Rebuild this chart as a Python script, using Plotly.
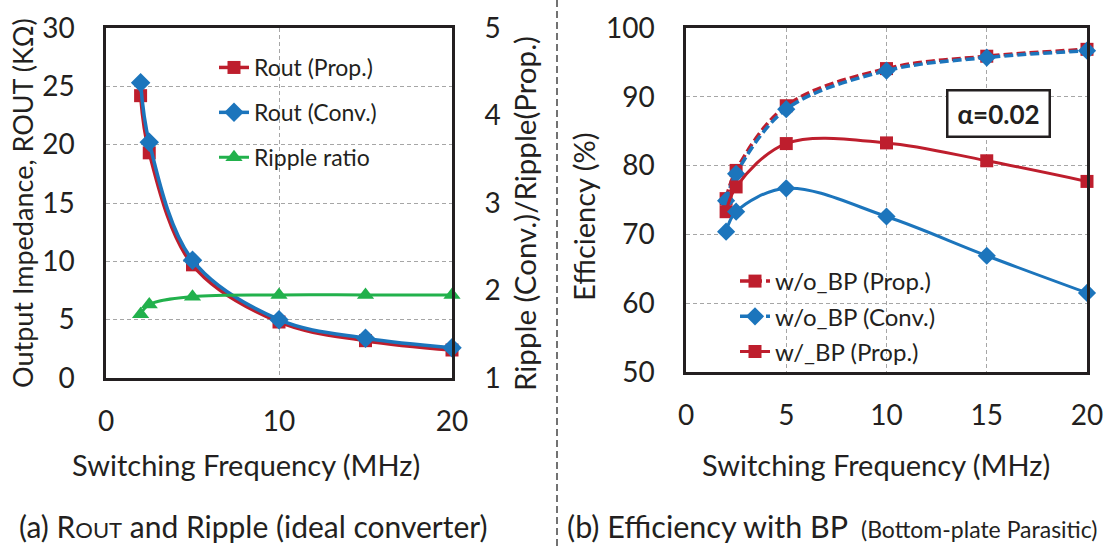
import plotly.graph_objects as go

# ---------------- data ----------------
freq = [2, 2.5, 5, 10, 15, 20]

rout_prop = [24.2, 19.3, 9.7, 4.8, 3.2, 2.4]
rout_conv = [25.3, 20.2, 10.1, 5.0, 3.4, 2.6]
ripple_ratio = [1.73, 1.84, 1.93, 1.95, 1.95, 1.95]

eff_wo_prop = [75.2, 79.3, 88.7, 94.1, 95.9, 96.9]
eff_wo_conv = [74.9, 78.8, 88.2, 93.8, 95.7, 96.7]
eff_w_prop = [73.3, 76.9, 83.2, 83.3, 80.7, 77.7]
eff_w_conv = [70.4, 73.3, 76.7, 72.6, 66.9, 61.5]

left_names = ["Rout (Prop.)", "Rout (Conv.)", "Ripple ratio"]
right_names = ["w/o_BP (Prop.)", "w/o_BP (Conv.)", "w/_BP (Prop.)", "w/_BP (Conv.)"]

RED = "#BE1E2D"
BLUE = "#1C75BC"
GREEN = "#22B14C"
INK = "#231F20"
GRID = "#A6A6A6"
FONT = "Lato"

W, H = 1110, 546

def px_x(p):
    return p / W

def px_y(p):
    return 1 - p / H

fig = go.Figure()

# ---------------- left panel ----------------
fig.add_trace(go.Scatter(
    x=freq, y=rout_prop, name=left_names[0], xaxis="x", yaxis="y",
    mode="lines+markers", line=dict(color=RED, width=3.5, shape="spline"),
    marker=dict(symbol="square", size=13, color=RED),
    cliponaxis=False, legend="legend", legendgroup="a1"))
fig.add_trace(go.Scatter(
    x=freq, y=rout_conv, name=left_names[1], xaxis="x", yaxis="y",
    mode="lines+markers", line=dict(color=BLUE, width=3.5, shape="spline"),
    marker=dict(symbol="diamond", size=15, color=BLUE),
    cliponaxis=False, legend="legend", legendgroup="a2"))
fig.add_trace(go.Scatter(
    x=freq, y=ripple_ratio, name=left_names[2], xaxis="x", yaxis="y2",
    mode="lines+markers", line=dict(color=GREEN, width=3, shape="spline"),
    marker=dict(symbol="triangle-up", size=15, color=GREEN),
    cliponaxis=False, legend="legend", legendgroup="a3"))

# ---------------- right panel ----------------
fig.add_trace(go.Scatter(
    x=freq, y=eff_wo_prop, name=right_names[0], xaxis="x2", yaxis="y3",
    mode="lines+markers", line=dict(color=RED, width=3.5, shape="spline", dash="9px,4px"),
    marker=dict(symbol="square", size=13, color=RED),
    cliponaxis=False, legend="legend2", legendgroup="b1"))
fig.add_trace(go.Scatter(
    x=freq, y=eff_wo_conv, name=right_names[1], xaxis="x2", yaxis="y3",
    mode="lines+markers", line=dict(color=BLUE, width=3.5, shape="spline", dash="9px,4px"),
    marker=dict(symbol="diamond", size=14, color=BLUE),
    cliponaxis=False, legend="legend2", legendgroup="b2"))
fig.add_trace(go.Scatter(
    x=freq, y=eff_w_prop, name=right_names[2], xaxis="x2", yaxis="y3",
    mode="lines+markers", line=dict(color=RED, width=3, shape="spline"),
    marker=dict(symbol="square", size=13, color=RED),
    cliponaxis=False, legend="legend2", legendgroup="b3"))
fig.add_trace(go.Scatter(
    x=freq, y=eff_w_conv, name=right_names[3], xaxis="x2", yaxis="y3",
    mode="lines+markers", line=dict(color=BLUE, width=3, shape="spline"),
    marker=dict(symbol="diamond", size=14, color=BLUE),
    cliponaxis=False, showlegend=False))

tickfont = dict(family=FONT, size=28, color=INK)
common_x = dict(showline=True, linecolor=INK, linewidth=2.5, mirror=True, automargin=False,
                showgrid=True, gridcolor=GRID, gridwidth=1.2, griddash="4px,3px",
                zeroline=False, ticks="outside", ticklen=17, tickcolor="rgba(0,0,0,0)",
                tickfont=tickfont, fixedrange=True)
common_y = dict(showline=True, linecolor=INK, linewidth=2.5, mirror=True, automargin=False,
                showgrid=True, gridcolor=GRID, gridwidth=1.2, griddash="4px,3px",
                zeroline=False, ticks="outside", ticklen=23, tickcolor="rgba(0,0,0,0)",
                tickfont=tickfont, fixedrange=True)

fig.update_layout(
    template="none",
    width=W, height=H, margin=dict(l=0, r=0, t=0, b=0, autoexpand=False),
    paper_bgcolor="white", plot_bgcolor="white",
    font=dict(family=FONT, color=INK),
    xaxis=dict(domain=[px_x(106), px_x(452)], range=[0, 20], dtick=10, anchor="y", **common_x),
    yaxis=dict(domain=[px_y(378), px_y(28)], range=[0, 30], dtick=5, anchor="x", **common_y),
    yaxis2=dict(overlaying="y", side="right", range=[1, 5], dtick=1, anchor="x",
                showgrid=False, zeroline=False, showline=False, automargin=False,
                ticks="outside", ticklen=26, tickcolor="rgba(0,0,0,0)",
                tickfont=tickfont, fixedrange=True),
    xaxis2=dict(domain=[px_x(686), px_x(1087)], range=[0, 20], dtick=5, anchor="y3", **common_x),
    yaxis3=dict(domain=[px_y(372), px_y(28)], range=[50, 100], dtick=10, anchor="x2", **common_y),
    legend=dict(x=px_x(214), y=px_y(46), xanchor="left", yanchor="top",
                bgcolor="rgba(0,0,0,0)", font=dict(family=FONT, size=23, color=INK),
                tracegroupgap=12, itemwidth=30),
    legend2=dict(x=px_x(735), y=px_y(259), xanchor="left", yanchor="top",
                 bgcolor="rgba(0,0,0,0)", font=dict(family=FONT, size=24, color=INK),
                 tracegroupgap=1, itemwidth=30),
)

# white areas behind legends (hide gridlines, like the Excel legend boxes)
fig.add_shape(type="rect", xref="paper", yref="paper", layer="between",
              x0=px_x(180), x1=px_x(423), y0=px_y(181), y1=px_y(29),
              fillcolor="white", line=dict(width=0))
fig.add_shape(type="rect", xref="paper", yref="paper", layer="between",
              x0=px_x(697), x1=px_x(950), y0=px_y(370), y1=px_y(261),
              fillcolor="white", line=dict(width=0))

# separator
fig.add_shape(type="line", xref="paper", yref="paper", x0=px_x(557), x1=px_x(557),
              y0=0, y1=1, line=dict(color="#444444", width=1.5, dash="7px,4px"))

def ann(text, x, y, size, angle=0, xanchor="center", **kw):
    fig.add_annotation(text=text, xref="paper", yref="paper", x=px_x(x), y=px_y(y),
                       xanchor=xanchor, yanchor="middle", showarrow=False, textangle=angle,
                       font=dict(family=FONT, size=size, color=INK), **kw)

ann("Switching Frequency (MHz)", 246, 464, 29)
ann("Switching Frequency (MHz)", 876, 464, 29)
ann("Output Impedance, ROUT (KΩ)", 22, 203, 27, angle=-90)
ann("Ripple (Conv.)/Ripple(Prop.)", 525, 214, 29.5, angle=-90)
ann("Efficiency (%)", 584, 217, 29, angle=-90)
ann("(a) R<span style='font-size:22px'>OUT</span> and Ripple (ideal converter)", 253, 526, 30)
ann("(b) Efficiency with BP <span style='font-size:23px'> (Bottom-plate Parasitic)</span>",
    565, 526, 30.5, xanchor="left")

fig.add_annotation(text="<b>α=0.02</b>", xref="x2", yref="y3", x=15.6, y=87.6,
                   showarrow=False, font=dict(family=FONT, size=26, color=INK),
                   bgcolor="white", bordercolor=INK, borderwidth=2.5, borderpad=0,
                   width=100, height=44)

fig.write_html("out.html")
